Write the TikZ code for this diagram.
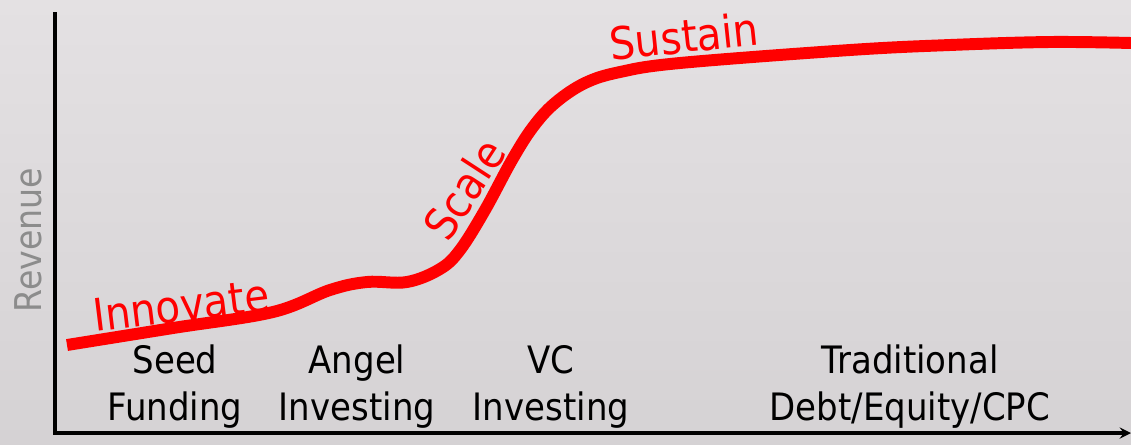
\documentclass[tikz,border=0pt]{standalone}
\usepackage{fontspec}
\setmainfont{DejaVu Sans}[FakeStretch=0.9]
\usepackage{tikz}
\usetikzlibrary{arrows}
\usetikzlibrary{positioning, calc}
\usepackage{xcolor}

\definecolor{bgtop}{RGB}{228,225,227}
\definecolor{bgmid}{RGB}{245,242,244}
\definecolor{bgbot}{RGB}{213,210,212}
\definecolor{revgray}{RGB}{140,140,140}

\begin{document}
\begin{tikzpicture}[x=0.02cm, y=-0.02cm,
    stage/.style={font=\fontsize{21.5}{26.7}\selectfont, align=center, anchor=base, inner sep=0pt},
    phase/.style={red, font=\fontsize{25.5}{30}\selectfont, inner sep=0pt}]
      \useasboundingbox (0,0) rectangle (1131,444);
      \shade[top color=bgtop, middle color=bgmid, bottom color=bgbot] (0,0) rectangle (1131,444);

      % axes
      \coordinate (ytop) at (55,12);
      \coordinate (origin) at (55,433);
      \coordinate (xend) at (1131,433);
      \draw[->, >=stealth, line width=1.8pt] (ytop) -- (origin) -- (xend);
      \node[rotate=90, revgray, font=\fontsize{21}{25}\selectfont] (revenue) at (28,240) {Revenue};

      % revenue curve
      \draw[red, line width=6.8pt, line cap=butt] plot[smooth, tension=0.6] coordinates {(67,345) (173,328) (273,312) (330,290) (367,282) (407,282) (440,269) (460,250) (485,210) (512,160) (533,127) (555,103) (585,83) (620,72) (680,63) (850,50) (950,45) (1050,42) (1131,43)};

      \node[phase, rotate=7, anchor=base] (innovate) at (183,321) {Innovate};
      \node[phase, rotate=57] (scale) at (464,189) {Scale};
      \node[phase, rotate=6] (sustain) at (684,36) {Sustain};

      % funding stages (base = last line)
      \node[stage] (seed) at (175,420) {Seed\\Funding};
      \node[stage] (angel) at (357,420) {Angel\\Investing};
      \node[stage] (vc) at (551,420) {VC\\Investing};
      \node[stage] (trad) at (910,420) {Traditional\\Debt/Equity/CPC};

    \end{tikzpicture}
\end{document}
